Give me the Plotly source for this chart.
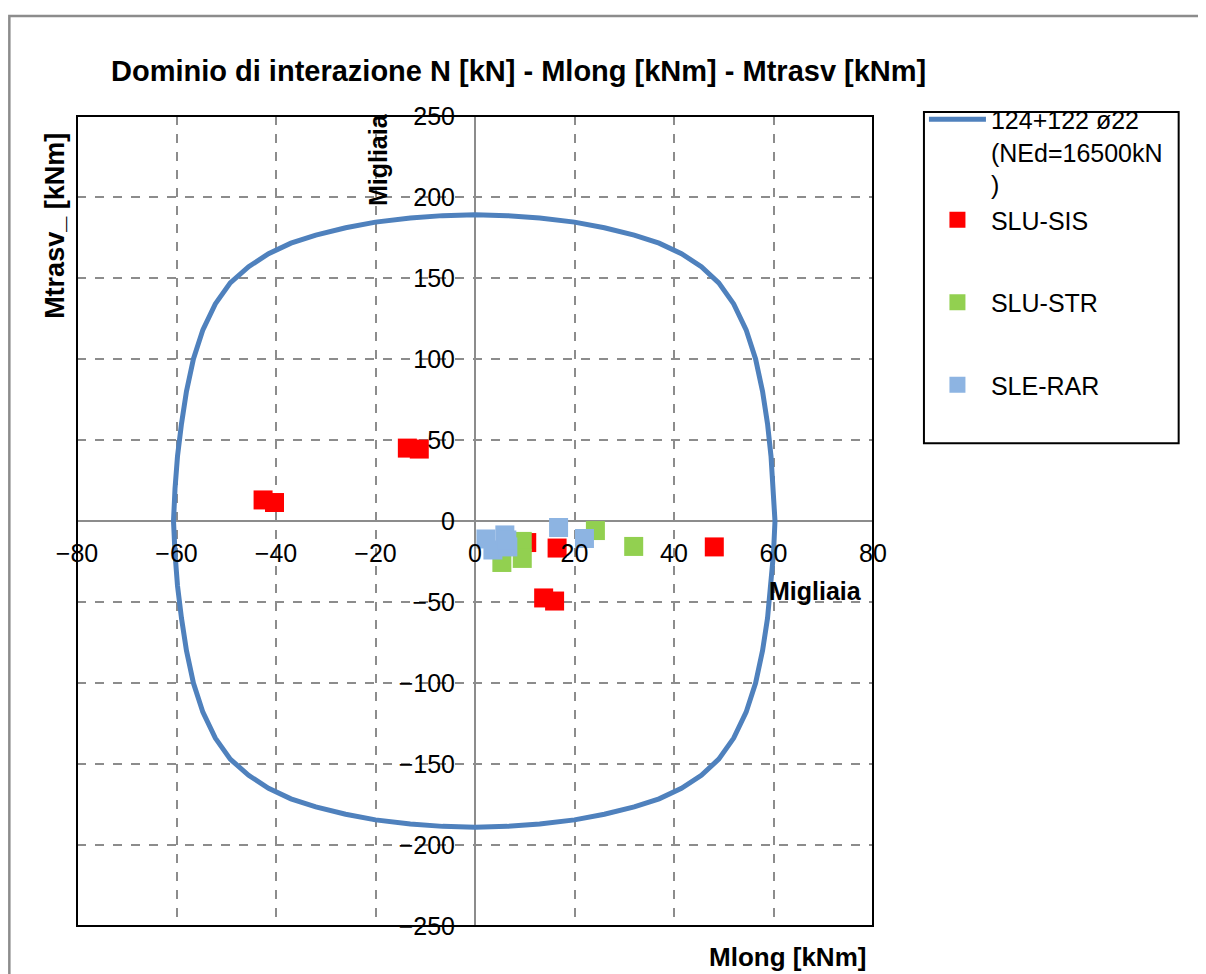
import plotly.graph_objects as go

# ----------------------------
# Data (values in thousands, as shown: "Migliaia")
# ----------------------------
DOM_X = [60.3, 60.0, 59.5, 58.8, 57.8, 56.4, 54.5, 52.0, 49.0, 45.5, 41.5, 37.0, 32.0, 26.0, 20.0, 13.0, 6.5,
         0.0,
         -6.5, -13.0, -20.0, -26.0, -32.0, -37.0, -41.5, -45.5, -49.2, -52.2, -54.7, -56.6, -58.0, -59.0, -59.8, -60.3,
         -60.6,
         -60.3, -59.8, -59.0, -58.0, -56.6, -54.7, -52.2, -49.2, -45.5, -41.5, -37.0, -32.0, -26.0, -20.0, -13.0, -6.5,
         0.0,
         6.5, 13.0, 20.0, 26.0, 32.0, 37.0, 41.5, 45.5, 49.0, 52.0, 54.5, 56.4, 57.8, 58.8, 59.5, 60.0,
         60.3]
DOM_Y = [0.0, 20.0, 40.0, 60.0, 80.0, 100.0, 118.0, 134.0, 147.0, 157.0, 165.0, 171.5, 176.5, 181.0, 184.5, 187.0, 188.5,
         189.0,
         188.5, 187.0, 184.5, 181.0, 176.5, 171.5, 165.0, 157.0, 147.0, 134.0, 118.0, 100.0, 80.0, 60.0, 40.0, 20.0,
         0.0,
         -20.0, -40.0, -60.0, -80.0, -100.0, -118.0, -134.0, -147.0, -157.0, -165.0, -171.5, -176.5, -181.0, -184.5, -187.0, -188.5,
         -189.0,
         -188.5, -187.0, -184.5, -181.0, -176.5, -171.5, -165.0, -157.0, -147.0, -134.0, -118.0, -100.0, -80.0, -60.0, -40.0, -20.0,
         0.0]

SIS_X = [-42.6, -40.3, -13.6, -11.2, 10.4, 16.5, 13.8, 16.0, 48.1]
SIS_Y = [13.0, 11.4, 45.0, 44.4, -13.3, -16.7, -47.5, -49.4, -16.0]

STR_X = [5.4, 9.5, 9.5, 24.2, 31.9]
STR_Y = [-25.6, -12.6, -23.1, -5.9, -15.7]

RAR_X = [2.2, 3.6, 6.0, 6.6, 6.4, 16.8, 22.0]
RAR_Y = [-11.1, -17.9, -8.6, -16.0, -11.7, -4.0, -10.8]

X_TICKS = [-80, -60, -40, -20, 0, 20, 40, 60, 80]
Y_TICKS = [-250, -200, -150, -100, -50, 0, 50, 100, 150, 200, 250]

FONT = "Liberation Sans, Arial, sans-serif"
GRID = "#8c8c8c"

fig = go.Figure()

fig.add_trace(go.Scatter(
    x=DOM_X, y=DOM_Y, mode="lines",
    line=dict(color="#4F81BD", width=5),
    name="124+122 ø22<br>(NEd=16500kN<br>)",
    legendgroup="a",
))
fig.add_trace(go.Scatter(
    x=SIS_X, y=SIS_Y, mode="markers",
    marker=dict(symbol="square", size=19, color="#FF0000"),
    name="SLU-SIS", legendgroup="a",
))
fig.add_trace(go.Scatter(
    x=STR_X, y=STR_Y, mode="markers",
    marker=dict(symbol="square", size=19, color="#92D050"),
    name="SLU-STR", legendgroup="c",
))
fig.add_trace(go.Scatter(
    x=RAR_X, y=RAR_Y, mode="markers",
    marker=dict(symbol="square", size=19, color="#8DB4E2"),
    name="SLE-RAR", legendgroup="d",
))

axis_style = dict(
    anchor="free", position=0.5,
    showgrid=True, griddash="dash", gridcolor=GRID, gridwidth=1.5,
    zeroline=True, zerolinecolor=GRID, zerolinewidth=2,
    showline=False, ticks="",
    tickfont=dict(family=FONT, size=25, color="black"),
    layer="above traces",
)

# page is shown with an 8px body margin, so figure is 8px smaller
fig.update_layout(
    width=1198, height=966,
    margin=dict(l=69, r=333, t=108, b=48),
    paper_bgcolor="white", plot_bgcolor="white",
    font=dict(family=FONT, color="black"),
    showlegend=True,
    legend=dict(
        x=1.064, y=1.024, xanchor="left", yanchor="top",
        font=dict(family=FONT, size=25, color="black"),
        bgcolor="rgba(0,0,0,0)", borderwidth=0,
        itemwidth=57, tracegroupgap=47, valign="top",
    ),
    xaxis=dict(range=[-80, 80], tickvals=X_TICKS, ticklabelstandoff=15, **axis_style),
    yaxis=dict(range=[-250, 250], tickvals=Y_TICKS, ticklabelstandoff=20, **axis_style),
)

# plot border, legend box, outer chart frame
fig.add_shape(type="rect", xref="paper", yref="paper", x0=0, x1=1, y0=0, y1=1,
              line=dict(color="black", width=2), layer="above")
fig.add_shape(type="rect", xref="paper", yref="paper", x0=1.064, x1=1.384, y0=0.596, y1=1.005,
              line=dict(color="black", width=2))
fig.add_shape(type="rect", xref="paper", yref="paper", x0=-0.085, x1=1.6, y0=-0.2, y1=1.1235,
              line=dict(color="#8c8c8c", width=2.5))

# texts
fig.add_annotation(text="<b>Dominio di interazione N [kN] - Mlong [kNm] - Mtrasv [kNm]</b>",
                   xref="paper", yref="paper", x=0.040, y=1.055, xanchor="left", yanchor="middle",
                   showarrow=False, font=dict(family=FONT, size=29))
fig.add_annotation(text="<b>Mtrasv_ [kNm]</b>", textangle=-90,
                   xref="paper", yref="paper", x=-0.028, y=0.864, xanchor="center", yanchor="middle",
                   showarrow=False, font=dict(family=FONT, size=27))
fig.add_annotation(text="<b>Mlong [kNm]</b>",
                   xref="paper", yref="paper", x=0.893, y=-0.038, xanchor="center", yanchor="middle",
                   showarrow=False, font=dict(family=FONT, size=26))
fig.add_annotation(text="<b>Migliaia</b>", x=68.5, y=-43.2, xanchor="center", yanchor="middle",
                   showarrow=False, font=dict(family=FONT, size=25))
fig.add_annotation(text="<b>Migliaia</b>", textangle=-90, x=-19.5, y=223.4,
                   xanchor="center", yanchor="middle",
                   showarrow=False, font=dict(family=FONT, size=25))

fig.write_html("out.html")
